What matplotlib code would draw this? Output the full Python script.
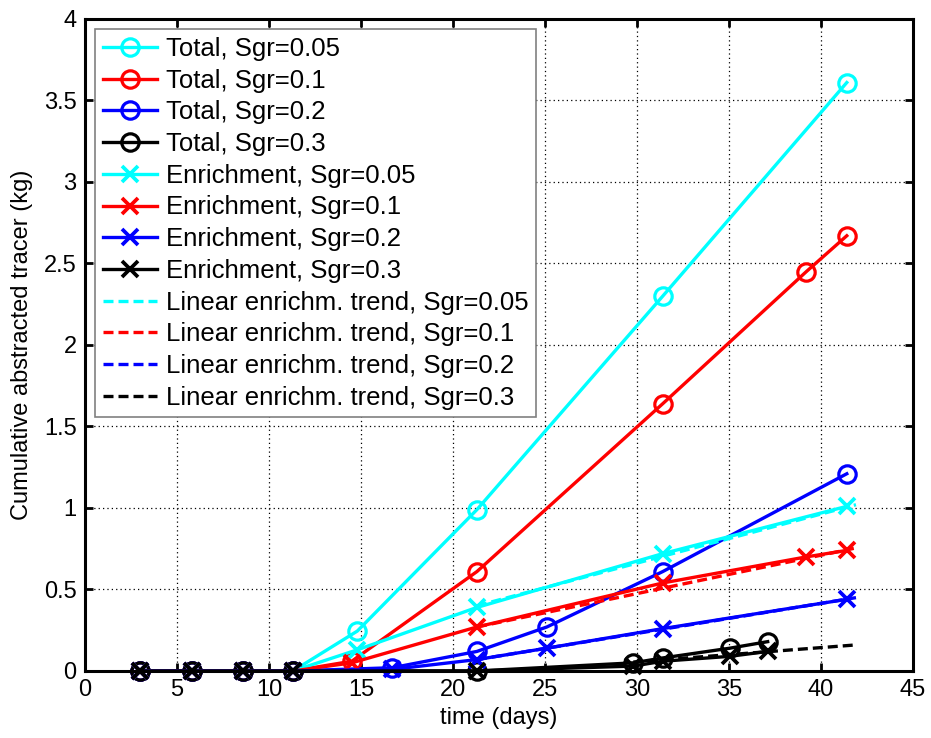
import matplotlib
matplotlib.use("Agg")
import matplotlib.pyplot as plt

plt.rcParams['font.family'] = ['Liberation Sans', 'DejaVu Sans']

sgr_labels = ['0.05', '0.1', '0.2', '0.3']
colors = ['cyan', 'red', 'blue', 'black']

# total abstracted tracer per Sgr
total_days = [
    [3, 5.8, 8.6, 11.3, 14.8, 21.3, 31.4, 41.4],
    [3, 5.8, 8.6, 11.3, 14.5, 21.3, 31.4, 39.2, 41.4],
    [3, 5.8, 8.6, 11.3, 16.7, 21.3, 25.1, 31.4, 41.4],
    [3, 5.8, 8.6, 11.3, 21.3, 29.8, 31.4, 35.05, 37.1],
]
total_kg = [
    [0, 0, 0, 0, 0.245, 0.99, 2.30, 3.61],
    [0, 0, 0, 0, 0.06, 0.61, 1.64, 2.45, 2.67],
    [0, 0, 0, 0, 0.02, 0.12, 0.27, 0.61, 1.21],
    [0, 0, 0, 0, 0, 0.05, 0.08, 0.14, 0.18],
]

# enrichment part
enrich_days = total_days
enrich_kg = [
    [0, 0, 0, 0, 0.13, 0.39, 0.72, 1.01],
    [0, 0, 0, 0, 0.05, 0.27, 0.54, 0.70, 0.74],
    [0, 0, 0, 0, 0.01, 0.07, 0.14, 0.26, 0.44],
    [0, 0, 0, 0, 0, 0.03, 0.06, 0.09, 0.12],
]

# linear enrichment trends (start, end)
trend_days = [
    [21.3, 41.9],
    [21.3, 41.9],
    [21.3, 41.9],
    [29.8, 41.9],
]
trend_kg = [
    [0.40, 1.02],
    [0.27, 0.755],
    [0.07, 0.45],
    [0.055, 0.16],
]

fig = plt.figure(figsize=(9.31, 7.38), dpi=100)
ax = fig.add_axes([0.0913, 0.0908, 0.8894, 0.8835])

lw = 2.4
for i in range(4):
    ax.plot(total_days[i], total_kg[i], '-o', color=colors[i], lw=lw,
            ms=12.5, mfc='none', mew=2.3, label='Total, Sgr=' + sgr_labels[i],
            clip_on=False)
for i in range(4):
    ax.plot(enrich_days[i], enrich_kg[i], '-x', color=colors[i], lw=lw,
            ms=12, mew=2.7, label='Enrichment, Sgr=' + sgr_labels[i],
            clip_on=False)
for i in range(4):
    ax.plot(trend_days[i], trend_kg[i], '--', color=colors[i], lw=lw,
            dashes=(3, 1.5), label='Linear enrichm. trend, Sgr=' + sgr_labels[i])

ax.set_xlim(0, 45)
ax.set_ylim(0, 4)
ax.set_xticks(range(0, 46, 5))
ax.set_yticks([0, 0.5, 1, 1.5, 2, 2.5, 3, 3.5, 4])
ax.set_yticklabels(['0', '0.5', '1', '1.5', '2', '2.5', '3', '3.5', '4'])
ax.grid(True, color='black', linestyle=(0, (1, 2.5)), linewidth=0.9)
ax.tick_params(direction='in', length=6, width=2, top=True, right=True,
               labelsize=17, pad=6)
for s in ax.spines.values():
    s.set_linewidth(2.2)
    s.set_zorder(5)

ax.set_xlabel('time (days)', fontsize=17, labelpad=4)
ax.set_ylabel('Cumulative abstracted tracer (kg)', fontsize=17, labelpad=8)

leg = ax.legend(loc='upper left', fontsize=18.5, labelspacing=0.3,
                handlelength=2.1, handletextpad=0.35, borderaxespad=0.4,
                fancybox=False, framealpha=1, borderpad=0.3)
leg.get_frame().set_edgecolor('gray')
leg.get_frame().set_linewidth(1.2)
leg.set_zorder(6)

fig.savefig('out.png', dpi=100)
